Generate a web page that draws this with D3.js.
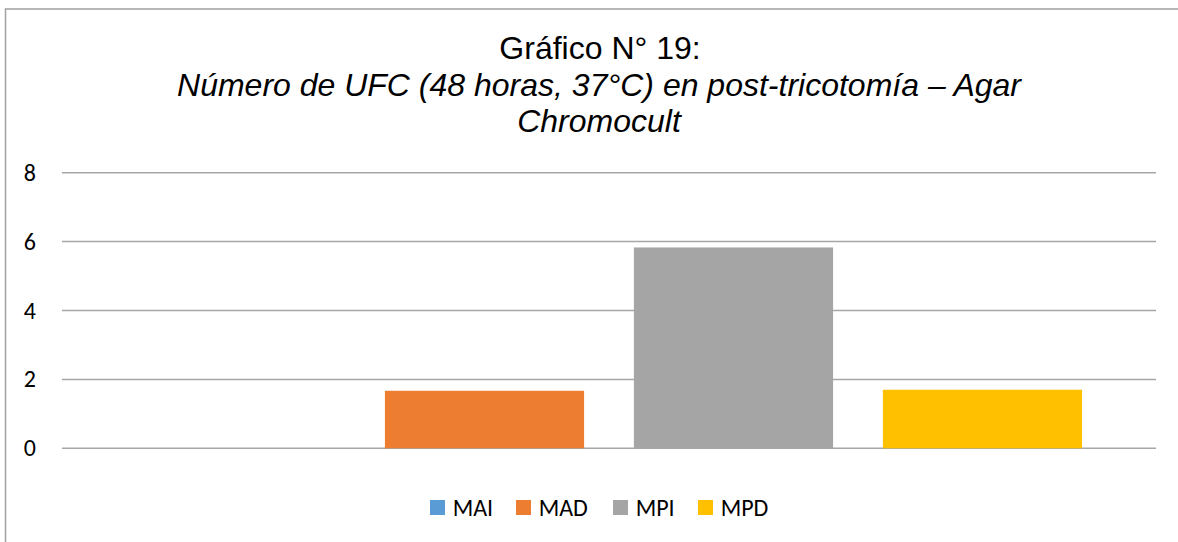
<!DOCTYPE html>
<html>
<head>
<meta charset="utf-8">
<script src="https://cdn.jsdelivr.net/npm/d3@7"></script>
<style>
  body { margin: 0; background: #fff; }
  svg { display: block; }
</style>
</head>
<body>
<svg width="1178" height="542"></svg>
<script>
// data
var series = ["MAI", "MAD", "MPI", "MPD"];
var values = [0, 1.67, 5.83, 1.7];
var colors = ["#5b9bd5", "#ed7d31", "#a5a5a5", "#ffc000"];
var yTicks = [0, 2, 4, 6, 8];
var titleLines = ["Gráfico N° 19:", "Número de UFC (48 horas, 37°C) en post-tricotomía – Agar", "Chromocult"];

var svg = d3.select("svg"),
    plotLeft = 62, plotRight = 1156, plotTop = 172.7, plotBottom = 448.3;

// chart frame
svg.append("rect")
    .attr("x", 5.5).attr("y", 9)
    .attr("width", 1180).attr("height", 560)
    .attr("fill", "none")
    .attr("stroke", "#a0a0a0")
    .attr("stroke-width", 1.5);

// title
svg.append("text")
    .attr("x", 600).attr("y", 59)
    .attr("text-anchor", "middle")
    .attr("font-family", "Liberation Sans, Arial, sans-serif")
    .attr("font-size", "32px")
    .attr("fill", "#000")
    .text(titleLines[0]);

titleLines.slice(1).forEach(function (t, i) {
    svg.append("text")
        .attr("x", 599).attr("y", 96 + i * 36)
        .attr("text-anchor", "middle")
        .attr("font-family", "Liberation Sans, Arial, sans-serif")
        .attr("font-style", "italic")
        .attr("font-size", "32px")
        .attr("fill", "#000")
        .text(t);
});

var xScale = d3.scaleBand()
    .domain(series)
    .range([plotLeft, plotRight])
    .paddingInner(0.2)
    .paddingOuter(0.297);

var yScale = d3.scaleLinear().domain([0, 8]).range([plotBottom, plotTop]);

// gridlines
svg.append("g")
    .selectAll("line")
    .data(yTicks)
    .enter().append("line")
    .attr("x1", plotLeft).attr("x2", plotRight)
    .attr("y1", function (d) { return yScale(d); })
    .attr("y2", function (d) { return yScale(d); })
    .attr("stroke", "#a6a6a6")
    .attr("stroke-width", 1.5);

// y labels
svg.append("g")
    .selectAll("text")
    .data(yTicks)
    .enter().append("text")
    .attr("x", 36)
    .attr("y", function (d) { return yScale(d) + 8; })
    .attr("text-anchor", "end")
    .attr("font-family", "Carlito, Calibri, 'Open Sans', sans-serif")
    .attr("font-size", "24px")
    .attr("fill", "#000")
    .text(function (d) { return d; });

// bars
svg.append("g")
    .selectAll("rect")
    .data(values)
    .enter().append("rect")
    .attr("x", function (d, i) { return xScale(series[i]); })
    .attr("y", function (d) { return yScale(d); })
    .attr("width", xScale.bandwidth())
    .attr("height", function (d) { return plotBottom - yScale(d); })
    .attr("fill", function (d, i) { return colors[i]; });

// legend
var legendX = [430, 516, 613, 698];
var legend = svg.append("g")
    .selectAll("g")
    .data(series)
    .enter().append("g")
    .attr("transform", function (d, i) { return "translate(" + legendX[i] + ",500)"; });

legend.append("rect")
    .attr("width", 15).attr("height", 15)
    .attr("fill", function (d, i) { return colors[i]; });

legend.append("text")
    .attr("x", 22.7).attr("y", 15.7)
    .attr("font-family", "Carlito, Calibri, 'Open Sans', sans-serif")
    .attr("font-size", "24px")
    .attr("fill", "#000")
    .text(function (d) { return d; });
</script>
</body>
</html>
